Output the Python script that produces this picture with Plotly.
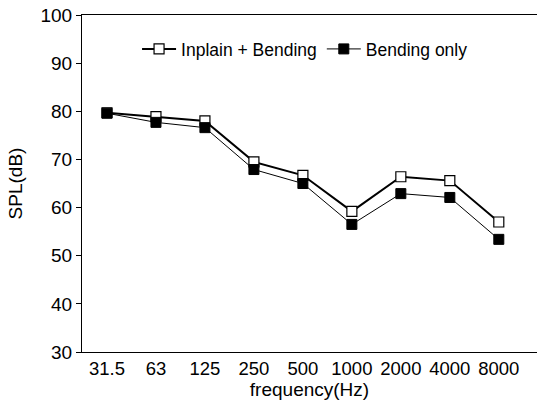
import plotly.graph_objects as go

freq_labels = ["31.5", "63", "125", "250", "500", "1000", "2000", "4000", "8000"]
inplain_bending = [79.7, 78.9, 78.0, 69.5, 66.7, 59.2, 66.4, 65.6, 57.0]
bending_only = [79.6, 77.7, 76.6, 67.9, 65.0, 56.5, 62.9, 62.1, 53.4]
y_ticks = [30, 40, 50, 60, 70, 80, 90, 100]

font_family = "Liberation Sans, Arial, sans-serif"

fig = go.Figure()
fig.add_trace(go.Scatter(
    x=freq_labels, y=inplain_bending, name="Inplain + Bending",
    mode="lines+markers",
    line=dict(color="black", width=2),
    marker=dict(symbol="square", size=10, color="white", line=dict(color="black", width=1.2)),
))
fig.add_trace(go.Scatter(
    x=freq_labels, y=bending_only, name="Bending only",
    mode="lines+markers",
    line=dict(color="black", width=1),
    marker=dict(symbol="square", size=10, color="black", line=dict(color="black", width=1)),
))

fig.update_layout(
    width=537, height=403,
    margin=dict(l=82, r=0, t=15, b=51),
    paper_bgcolor="white", plot_bgcolor="white",
    font=dict(family=font_family, size=18, color="black"),
    showlegend=True,
    legend=dict(orientation="h", x=0.121, y=0.899, xanchor="left", yanchor="middle",
                font=dict(size=17.5), bgcolor="rgba(0,0,0,0)", itemwidth=34,
                tracegroupgap=0),
)
fig.update_xaxes(
    type="category", range=[-0.51, 8.78],
    showline=True, linecolor="black", linewidth=1.2, mirror=True,
    showgrid=False, zeroline=False, ticks="",
    title=dict(text="frequency(Hz)", standoff=0, font=dict(size=19)),
    tickfont=dict(size=18.5),
)
fig.update_yaxes(
    range=[30, 100], tickvals=y_ticks,
    showline=True, linecolor="black", linewidth=1.2,
    showgrid=False, zeroline=False, ticks="outside", ticklen=5, tickcolor="black",
    title=dict(text="SPL(dB)", standoff=12, font=dict(size=19)),
    tickfont=dict(size=19),
)

fig.write_html("out.html")
